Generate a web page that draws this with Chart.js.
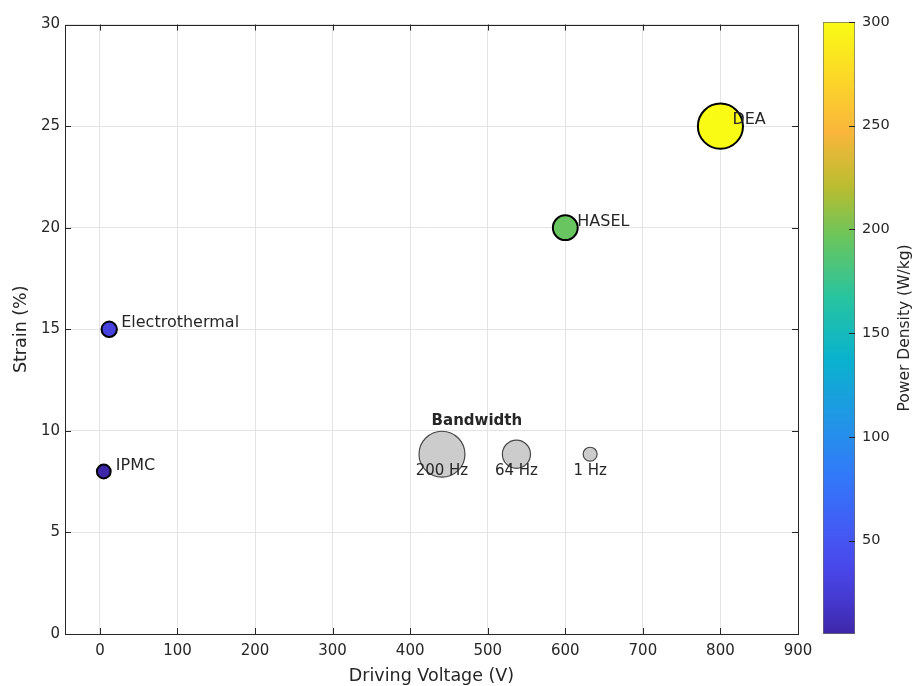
<!DOCTYPE html>
<html><head><meta charset="utf-8">
<script src="https://cdn.jsdelivr.net/npm/chart.js@4.4.1/dist/chart.umd.min.js"></script>
<style>
html,body{margin:0;padding:0;background:#fff;}
#wrap{position:relative;width:914px;height:686px;background:#fff;}
canvas{position:absolute;left:0;top:0;}
</style></head><body>
<div id="wrap"><canvas id="main" width="914" height="686"></canvas><canvas id="cbar" width="914" height="686"></canvas></div>
<script>
// ---- data ----
const technologies = ['IPMC', 'Electrothermal', 'HASEL', 'DEA'];
const drivingVoltage = [5, 12, 600, 800];      // V
const strain = [8, 15, 20, 25];                // %
const powerDensity = [5, 30, 195, 300];        // W/kg
const bandwidth = [3, 8, 50, 200];             // Hz
const legendBandwidth = [200, 64, 1];          // Hz
const legendLabels = ['200 Hz', '64 Hz', '1 Hz'];
const legendVoltage = [441, 537, 632];
const legendStrain = 8.85;
const legendLabelStrain = 8.0;
const legendTitle = 'Bandwidth';
const legendTitleVoltage = 486;
const legendTitleStrain = 10.5;
const xTicks = [0, 100, 200, 300, 400, 500, 600, 700, 800, 900];
const yTicks = [0, 5, 10, 15, 20, 25, 30];
const cbTicks = [50, 100, 150, 200, 250, 300];

// ---- style ----
const X_MIN = -45, X_MAX = 900, Y_MIN = 0, Y_MAX = 30;
const C_MIN = 5, C_MAX = 300;
const FONT = "'DejaVu Sans', 'Liberation Sans', Arial, sans-serif";
const TXT = '#262626';
const PARULA = [
  [0.00, [62, 38, 168]], [0.05, [69, 55, 204]], [0.10, [72, 69, 230]],
  [0.15, [70, 84, 242]], [0.25, [52, 118, 250]], [0.35, [33, 150, 230]],
  [0.45, [10, 178, 205]], [0.55, [40, 196, 160]], [0.65, [108, 197, 92]],
  [0.73, [185, 189, 48]], [0.82, [250, 182, 60]], [0.90, [251, 212, 42]],
  [1.00, [249, 251, 21]]
];
function parula(t) {
  t = Math.max(0, Math.min(1, t));
  for (let i = 0; i < PARULA.length - 1; i++) {
    const [t0, a] = PARULA[i], [t1, b] = PARULA[i + 1];
    if (t <= t1) {
      const f = (t - t0) / (t1 - t0);
      return `rgb(${Math.round(a[0] + f * (b[0] - a[0]))},${Math.round(a[1] + f * (b[1] - a[1]))},${Math.round(a[2] + f * (b[2] - a[2]))})`;
    }
  }
  return 'rgb(249,251,21)';
}
function bubbleRadius(bw) { return Math.sqrt(55 + 2.5 * bw); } // outer radius in px

const mainPlugin = {
  id: 'mainDecor',
  beforeDatasetsDraw(chart) {
    const { ctx, chartArea: a, scales: { x, y } } = chart;
    ctx.save();
    ctx.strokeStyle = TXT;
    ctx.lineWidth = 1;
    ctx.beginPath();
    xTicks.forEach(v => {
      const px = Math.round(x.getPixelForValue(v)) + 0.5;
      ctx.moveTo(px, a.bottom); ctx.lineTo(px, a.bottom - 6);
      ctx.moveTo(px, a.top); ctx.lineTo(px, a.top + 6);
    });
    yTicks.forEach(v => {
      const py = Math.round(y.getPixelForValue(v)) + 0.5;
      ctx.moveTo(a.left, py); ctx.lineTo(a.left + 6, py);
      ctx.moveTo(a.right, py); ctx.lineTo(a.right - 6, py);
    });
    ctx.stroke();
    ctx.strokeRect(Math.round(a.left) + 0.5, Math.round(a.top) + 0.5, Math.round(a.right - a.left), Math.round(a.bottom - a.top));
    ctx.restore();
  },
  afterDatasetsDraw(chart) {
    const { ctx, scales: { x, y } } = chart;
    ctx.save();
    ctx.fillStyle = TXT;
    ctx.textBaseline = 'middle';
    ctx.textAlign = 'left';
    ctx.font = `16px ${FONT}`;
    technologies.forEach((name, i) => {
      ctx.fillText(name, x.getPixelForValue(drivingVoltage[i]) + 12, y.getPixelForValue(strain[i]) - 6);
    });
    ctx.textAlign = 'center';
    ctx.font = `15px ${FONT}`;
    legendLabels.forEach((lab, i) => {
      ctx.fillText(lab, x.getPixelForValue(legendVoltage[i]), y.getPixelForValue(legendLabelStrain));
    });
    ctx.font = `bold 15px ${FONT}`;
    ctx.fillText(legendTitle, x.getPixelForValue(legendTitleVoltage), y.getPixelForValue(legendTitleStrain));
    ctx.restore();
  }
};

new Chart(document.getElementById('main'), {
  type: 'bubble',
  data: {
    datasets: [
      {
        label: 'Actuators',
        data: technologies.map((t, i) => ({ x: drivingVoltage[i], y: strain[i], r: bubbleRadius(bandwidth[i]) - 1 })),
        backgroundColor: powerDensity.map(v => parula((v - C_MIN) / (C_MAX - C_MIN))),
        borderColor: '#000',
        borderWidth: 2,
        hoverRadius: 0
      },
      {
        label: 'Bandwidth',
        data: legendBandwidth.map((b, i) => ({ x: legendVoltage[i], y: legendStrain, r: bubbleRadius(b) - 0.6 })),
        backgroundColor: '#cccccc',
        borderColor: '#474747',
        borderWidth: 1.2,
        hoverRadius: 0
      }
    ]
  },
  options: {
    responsive: false,
    animation: false,
    events: [],
    layout: { padding: { left: 0, top: 22, right: 116, bottom: 0 } },
    plugins: { legend: { display: false }, tooltip: { enabled: false } },
    scales: {
      x: {
        type: 'linear', min: X_MIN, max: X_MAX,
        afterBuildTicks: s => { s.ticks = xTicks.map(v => ({ value: v })); },
        afterFit: s => { s.height = 52; },
        grid: { color: '#e4e4e4', drawTicks: false },
        border: { display: false },
        ticks: { color: TXT, padding: 8, maxRotation: 0, autoSkip: false, font: { family: FONT, size: 15 } },
        title: { display: true, text: 'Driving Voltage (V)', color: TXT, padding: { top: 0, bottom: -1 }, font: { family: FONT, size: 17.5 } }
      },
      y: {
        type: 'linear', min: Y_MIN, max: Y_MAX,
        afterBuildTicks: s => { s.ticks = yTicks.map(v => ({ value: v })); },
        afterFit: s => { s.width = 65; },
        grid: { color: '#e4e4e4', drawTicks: false },
        border: { display: false },
        ticks: { color: TXT, padding: 5, autoSkip: false, font: { family: FONT, size: 15 } },
        title: { display: true, text: 'Strain (%)', color: TXT, padding: { top: 11, bottom: 0 }, font: { family: FONT, size: 17.5 } }
      }
    }
  },
  plugins: [mainPlugin]
});

const cbPlugin = {
  id: 'cbDecor',
  afterDatasetsDraw(chart) {
    const { ctx, chartArea: a, scales: { y } } = chart;
    ctx.save();
    ctx.strokeStyle = TXT;
    ctx.lineWidth = 1;
    ctx.beginPath();
    cbTicks.forEach(v => {
      const py = Math.round(y.getPixelForValue(v)) + 0.5;
      ctx.moveTo(a.right, py); ctx.lineTo(a.right - 6, py);
    });
    ctx.stroke();
    ctx.translate(905, (a.top + a.bottom) / 2);
    ctx.rotate(-Math.PI / 2);
    ctx.fillStyle = TXT;
    ctx.font = `15.5px ${FONT}`;
    ctx.textAlign = 'center';
    ctx.textBaseline = 'middle';
    ctx.fillText('Power Density (W/kg)', 0, 0);
    ctx.restore();
  }
};

new Chart(document.getElementById('cbar'), {
  type: 'bar',
  data: {
    labels: [''],
    datasets: [{
      data: [[C_MIN, C_MAX]],
      backgroundColor: c => {
        const ch = c.chart, a = ch.chartArea;
        if (!a) return '#888';
        const g = ch.ctx.createLinearGradient(0, a.bottom, 0, a.top);
        PARULA.forEach(([t, col]) => g.addColorStop(t, `rgb(${col[0]},${col[1]},${col[2]})`));
        return g;
      },
      borderColor: '#6b6b6b',
      borderWidth: 1,
      borderSkipped: false,
      barPercentage: 1,
      categoryPercentage: 1
    }]
  },
  options: {
    responsive: false,
    animation: false,
    events: [],
    layout: { padding: { left: 823, top: 22, right: 0, bottom: 52 } },
    plugins: { legend: { display: false }, tooltip: { enabled: false } },
    scales: {
      x: { display: false },
      y: {
        position: 'right', min: C_MIN, max: C_MAX,
        afterBuildTicks: s => { s.ticks = cbTicks.map(v => ({ value: v })); },
        afterFit: s => { s.width = 914 - 855; },
        grid: { display: false, drawTicks: false },
        border: { display: false },
        ticks: { color: TXT, padding: 7, font: { family: FONT, size: 14.5 } }
      }
    }
  },
  plugins: [cbPlugin]
});
</script>
</body></html>
